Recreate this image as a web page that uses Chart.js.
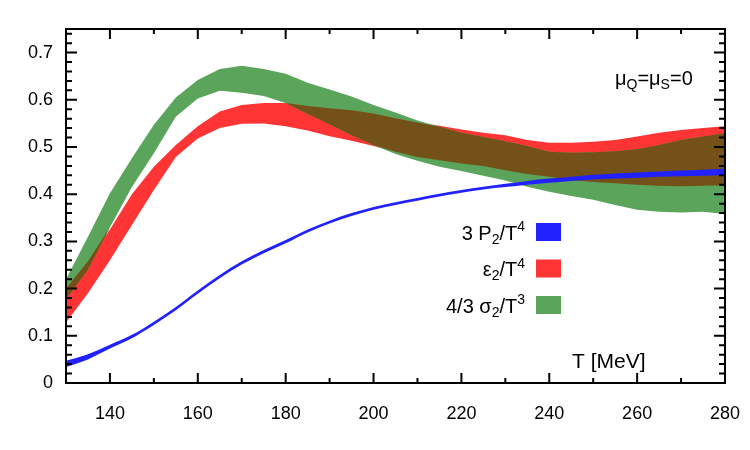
<!DOCTYPE html>
<html>
<head>
<meta charset="utf-8">
<script src="https://cdn.jsdelivr.net/npm/chart.js@4.4.1/dist/chart.umd.min.js"></script>
<style>
  html, body { margin: 0; padding: 0; background: #fff; }
</style>
</head>
<body>
<canvas id="chart" width="750" height="450"></canvas>
<script>
// temperature grid (MeV)
const temps = [130, 135, 140, 145, 150, 155, 160, 165, 170, 175, 180, 185, 190, 195, 200, 205,
               210, 215, 220, 225, 230, 235, 240, 245, 250, 255, 260, 265, 270, 275, 280];

// 3 P2/T^4 band
const pressureHi = [0.047, 0.061, 0.081, 0.102, 0.130, 0.161, 0.196, 0.229, 0.258, 0.282, 0.303, 0.325, 0.344, 0.360, 0.373, 0.383,
                    0.392, 0.401, 0.409, 0.416, 0.422, 0.428, 0.433, 0.437, 0.441, 0.444, 0.446, 0.448, 0.450, 0.452, 0.454];
const pressureLo = [0.034, 0.050, 0.073, 0.095, 0.123, 0.154, 0.189, 0.222, 0.251, 0.275, 0.296, 0.319, 0.338, 0.354, 0.367, 0.377,
                    0.386, 0.395, 0.403, 0.410, 0.415, 0.420, 0.424, 0.428, 0.431, 0.433, 0.435, 0.437, 0.438, 0.439, 0.440];

// eps2/T^4 band
const energyHi = [0.200, 0.258, 0.325, 0.400, 0.458, 0.504, 0.544, 0.575, 0.589, 0.593, 0.593, 0.587, 0.582, 0.578, 0.571, 0.561,
                  0.552, 0.545, 0.537, 0.530, 0.525, 0.515, 0.509, 0.509, 0.511, 0.515, 0.522, 0.530, 0.536, 0.540, 0.544];
const energyLo = [0.128, 0.190, 0.260, 0.335, 0.409, 0.479, 0.518, 0.540, 0.549, 0.550, 0.544, 0.535, 0.523, 0.513, 0.502, 0.490,
                  0.479, 0.472, 0.465, 0.460, 0.451, 0.443, 0.437, 0.430, 0.426, 0.423, 0.420, 0.418, 0.417, 0.418, 0.419];

// 4/3 sigma2/T^3 band
const entropyHi = [0.220, 0.310, 0.402, 0.476, 0.547, 0.605, 0.642, 0.665, 0.672, 0.665, 0.655, 0.636, 0.622, 0.607, 0.589, 0.573,
                   0.556, 0.543, 0.530, 0.521, 0.512, 0.502, 0.490, 0.488, 0.489, 0.491, 0.495, 0.504, 0.515, 0.522, 0.529];
const entropyLo = [0.178, 0.240, 0.330, 0.415, 0.487, 0.564, 0.603, 0.619, 0.615, 0.608, 0.593, 0.570, 0.548, 0.525, 0.504, 0.485,
                   0.471, 0.458, 0.449, 0.439, 0.429, 0.416, 0.405, 0.396, 0.388, 0.377, 0.367, 0.363, 0.361, 0.363, 0.358];

// where the red and green bands overlap (drawn brown)
const overlapLo = temps.map((t, i) => Math.max(energyLo[i], entropyLo[i]));
const overlapHi = temps.map((t, i) => Math.max(overlapLo[i], Math.min(energyHi[i], entropyHi[i])));

const xTicks = [140, 160, 180, 200, 220, 240, 260, 280];
const yTicks = [0, 0.1, 0.2, 0.3, 0.4, 0.5, 0.6, 0.7];

const FONT = '"Liberation Sans", Arial, Helvetica, sans-serif';

const legendItems = [
    { color: '#2222ff', parts: [{ t: '3 P' }, { t: '2', s: 'sub' }, { t: '/T' }, { t: '4', s: 'sup' }] },
    { color: '#ff3434', parts: [{ t: '\u03b5' }, { t: '2', s: 'sub' }, { t: '/T' }, { t: '4', s: 'sup' }] },
    { color: '#5ba45b', parts: [{ t: '4/3 \u03c3' }, { t: '2', s: 'sub' }, { t: '/T' }, { t: '3', s: 'sup' }] }
];

const pts = arr => temps.map((t, i) => ({ x: t, y: arr[i] }));

// text with sub/superscripts
function drawRich(ctx, parts, x, y, size, align) {
    const fontFor = p => (p.s ? Math.round(size * 0.7) : size) + 'px ' + FONT;
    const widths = parts.map(p => { ctx.font = fontFor(p); return ctx.measureText(p.t).width; });
    const total = widths.reduce((a, b) => a + b, 0);
    let cx = align === 'right' ? x - total : x;
    ctx.textAlign = 'left';
    ctx.textBaseline = 'alphabetic';
    parts.forEach((p, i) => {
        ctx.font = fontFor(p);
        const dy = p.s === 'sub' ? size * 0.22 : p.s === 'sup' ? -size * 0.42 : 0;
        ctx.fillText(p.t, cx, y + dy);
        cx += widths[i];
    });
}

const decor = {
    id: 'decor',
    afterDatasetsDraw(chart) {
        const { ctx, chartArea: a, scales: { x, y } } = chart;
        ctx.save();
        ctx.strokeStyle = '#000';
        ctx.lineWidth = 2;
        ctx.beginPath();
        // x ticks, every 10 MeV, long ones every 20
        for (let v = 130; v <= 280; v += 10) {
            const px = x.getPixelForValue(v);
            const len = v % 20 === 0 ? 10 : 5;
            ctx.moveTo(px, a.bottom); ctx.lineTo(px, a.bottom - len);
            ctx.moveTo(px, a.top); ctx.lineTo(px, a.top + len);
        }
        // y ticks, every 0.02
        for (let k = 0; k <= 37; k++) {
            const py = y.getPixelForValue(k * 0.02);
            const len = k % 5 === 0 ? 11 : 6;
            ctx.moveTo(a.left, py); ctx.lineTo(a.left + len, py);
            ctx.moveTo(a.right, py); ctx.lineTo(a.right - len, py);
        }
        ctx.stroke();
        ctx.strokeRect(a.left, a.top, a.right - a.left, a.bottom - a.top);

        // legend
        legendItems.forEach((item, i) => {
            const top = 223 + i * 36.5;
            ctx.fillStyle = item.color;
            ctx.fillRect(536, top, 25, 18);
            ctx.fillStyle = '#000';
            drawRich(ctx, item.parts, 525, top + 16.5, 20, 'right');
        });
        ctx.fillStyle = '#000';
        drawRich(ctx, [{ t: '\u03bc' }, { t: 'Q', s: 'sub' }, { t: '=\u03bc' }, { t: 'S', s: 'sub' }, { t: '=0' }], 615, 85, 20, 'left');
        drawRich(ctx, [{ t: 'T [MeV]' }], 572, 368, 21, 'left');
        ctx.restore();
    }
};

const band = (data, color, fill, order, smooth) => ({
    data: data,
    borderWidth: 0,
    borderColor: color,
    backgroundColor: color,
    pointRadius: 0,
    fill: fill,
    order: order,
    cubicInterpolationMode: smooth ? 'monotone' : 'default',
    tension: 0
});

new Chart(document.getElementById('chart').getContext('2d'), {
    type: 'line',
    data: {
        datasets: [
            band(pts(pressureHi), '#2121ff', '+1', 0, true),
            band(pts(pressureLo), '#2121ff', false, 0, true),
            band(pts(overlapHi), '#745118', '+1', 1, false),
            band(pts(overlapLo), '#745118', false, 1, false),
            band(pts(entropyHi), '#5ba45b', '+1', 2, false),
            band(pts(entropyLo), '#5ba45b', false, 2, false),
            band(pts(energyHi), '#ff3434', '+1', 3, false),
            band(pts(energyLo), '#ff3434', false, 3, false)
        ]
    },
    options: {
        responsive: false,
        animation: false,
        layout: { padding: { top: 29, right: 25, left: 0, bottom: 0 } },
        plugins: { legend: { display: false }, tooltip: { enabled: false } },
        scales: {
            x: {
                type: 'linear', min: 130, max: 280,
                afterBuildTicks: s => { s.ticks = xTicks.map(v => ({ value: v })); },
                afterFit: s => { s.height = 67; s.paddingLeft = 0; s.paddingRight = 0; },
                grid: { display: false, drawTicks: false },
                border: { display: false },
                ticks: { color: '#000', padding: 20, autoSkip: false, maxRotation: 0, font: { family: FONT, size: 18 } }
            },
            y: {
                type: 'linear', min: 0, max: 0.75,
                afterBuildTicks: s => { s.ticks = yTicks.map(v => ({ value: v })); },
                afterFit: s => { s.width = 66; s.paddingTop = 0; s.paddingBottom = 0; },
                grid: { display: false, drawTicks: false },
                border: { display: false },
                ticks: { color: '#000', padding: 13, autoSkip: false, font: { family: FONT, size: 18 },
                         callback: v => String(Math.round(v * 10) / 10) }
            }
        }
    },
    plugins: [decor]
});
</script>
</body>
</html>
